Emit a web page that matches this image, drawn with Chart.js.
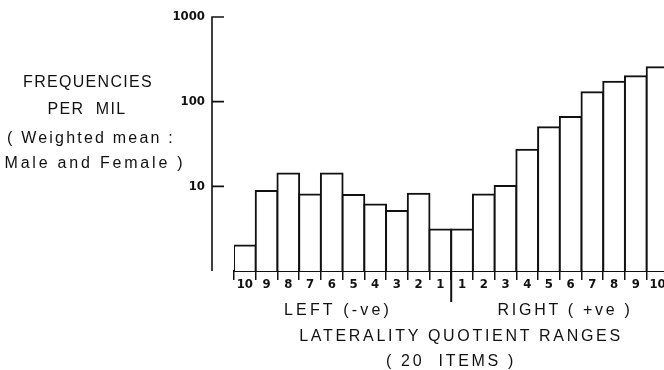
<!DOCTYPE html>
<html><head><meta charset="utf-8">
<script src="https://cdn.jsdelivr.net/npm/chart.js@4"></script>
<style>
html,body{margin:0;padding:0;background:#fff;overflow:hidden;width:664px;height:370px}
#wrap{position:relative;width:664px;height:370px;overflow:hidden;background:#fff}
canvas{position:absolute;left:0;top:0}
.t{position:absolute;font-family:'Liberation Sans',Arial,sans-serif;color:#111;white-space:pre;transform:translate(-50%,-50%);line-height:1;font-size:16px}
.cap{letter-spacing:1.3px}
.mix{letter-spacing:2.2px}
.bot{letter-spacing:2.7px}
</style></head><body>
<div id="wrap">
<canvas id="c" width="680" height="370"></canvas>
<div class="t cap" style="left:88px;top:82px">FREQUENCIES</div>
<div class="t cap" style="left:87px;top:109px">PER  MIL</div>
<div class="t mix" style="left:91px;top:138px">( Weighted mean :</div>
<div class="t mix" style="left:95px;top:163px;letter-spacing:2.8px">Male and Female )</div>
<div class="t bot" style="left:338px;top:310px;letter-spacing:3.2px">LEFT (-ve)</div>
<div class="t bot" style="left:565px;top:310px">RIGHT ( +ve )</div>
<div class="t bot" style="left:461px;top:336px">LATERALITY QUOTIENT RANGES</div>
<div class="t bot" style="left:451px;top:361px">( 20  ITEMS )</div>
</div>
<script>
// ---- data ----
const leftRanges  = ['10','9','8','7','6','5','4','3','2','1'];
const rightRanges = ['1','2','3','4','5','6','7','8','9','10'];
const categories  = leftRanges.concat(rightRanges);
const leftValues  = [2.0, 8.8, 14.2, 8.0, 14.2, 7.9, 6.1, 5.1, 8.2, 3.1];
const rightValues = [3.1, 8.0, 10.1, 27, 50, 66, 129, 172, 199, 255];
const frequencies = leftValues.concat(rightValues);
const yTicks = [10, 100, 1000];
const yMin = 1, yMax = 1000;

const ink = '#111';
const numFont = {family: "'Liberation Sans Narrow','DejaVu Sans Condensed',sans-serif", size: 13, weight: 'bold', lineHeight: 1};

const axisDecor = {
  id: 'axisDecor',
  afterDraw(chart) {
    const ctx = chart.ctx, x = chart.scales.x, y = chart.scales.y;
    const ax = x.left - 22;
    ctx.save();
    ctx.strokeStyle = ink;
    ctx.lineWidth = 1.6;
    ctx.beginPath();
    ctx.moveTo(ax, y.getPixelForValue(yMax) - 0.8);
    ctx.lineTo(ax, y.getPixelForValue(yMin));
    yTicks.forEach(v => {
      const py = y.getPixelForValue(v);
      ctx.moveTo(ax, py);
      ctx.lineTo(ax + 12, py);
    });
    ctx.stroke();
    // centre divider between left and right ranges
    const mid = (x.getPixelForValue(leftRanges.length - 1) + x.getPixelForValue(leftRanges.length)) / 2;
    ctx.lineWidth = 2;
    ctx.beginPath();
    ctx.moveTo(mid, x.top);
    ctx.lineTo(mid, x.top + 31);
    ctx.stroke();
    ctx.restore();
  }
};

new Chart(document.getElementById('c'), {
  type: 'bar',
  data: {
    labels: categories,
    datasets: [{
      data: frequencies,
      backgroundColor: '#fff',
      borderColor: ink,
      borderWidth: 2,
      inflateAmount: 1,
      barPercentage: 1,
      categoryPercentage: 1
    }]
  },
  options: {
    responsive: false,
    animation: false,
    devicePixelRatio: 1,
    layout: {padding: {top: 0, right: 11.6, bottom: 0, left: 0}},
    plugins: {legend: {display: false}, tooltip: {enabled: false}, title: {display: false}},
    scales: {
      x: {
        type: 'category',
        offset: true,
        afterFit(s) { s.height = 99; s.paddingLeft = 0; s.paddingRight = 0; },
        grid: {display: true, offset: true, drawOnChartArea: false, drawTicks: true, tickLength: 9, color: ink, lineWidth: 1.5},
        border: {display: true, color: ink, width: 2},
        ticks: {color: ink, font: numFont, padding: -2, maxRotation: 0, autoSkip: false}
      },
      y: {
        type: 'logarithmic',
        min: yMin, max: yMax,
        afterFit(s) { s.width = 234; s.paddingTop = 17; s.paddingBottom = 0; },
        afterBuildTicks(s) { s.ticks = yTicks.map(v => ({value: v, major: true})); },
        grid: {display: false, drawTicks: false},
        border: {display: false},
        ticks: {color: ink, font: numFont, padding: 29, callback: v => String(v)}
      }
    }
  },
  plugins: [axisDecor]
});
</script>
</body></html>
